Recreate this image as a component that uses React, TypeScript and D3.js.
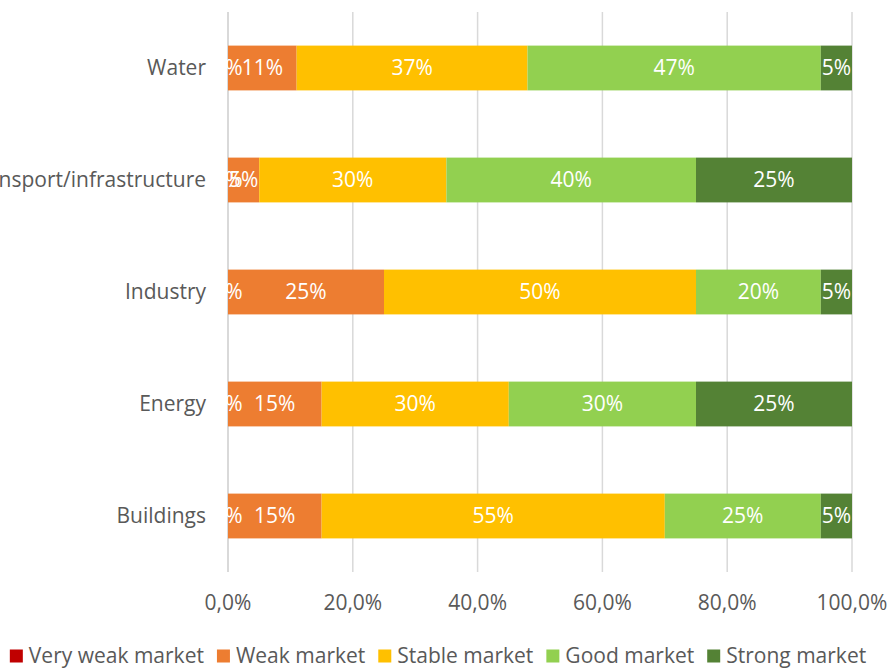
import React, { useEffect, useRef } from 'react';
import * as d3 from 'd3';

// categories top -> bottom
const categories = ['Water', 'Transport/infrastructure', 'Industry', 'Energy', 'Buildings'];
const seriesNames = ['Very weak market', 'Weak market', 'Stable market', 'Good market', 'Strong market'];
const seriesColors = ['#c00000', '#ed7d31', '#ffc000', '#92d050', '#548235'];

// values in percent, same order as categories
const veryWeak = [0, 0, 0, 0, 0];
const weak = [11, 5, 25, 15, 15];
const stable = [37, 30, 50, 30, 55];
const good = [47, 40, 20, 30, 25];
const strong = [5, 25, 5, 25, 5];

const xTicks = [0, 20, 40, 60, 80, 100];

const FONT = 'Open Sans, sans-serif';
const FS = '21px';

export default function App() {
  const ref = useRef<SVGSVGElement | null>(null);

  useEffect(() => {
    const svg = d3.select(ref.current);
    svg.selectAll('*').remove();

    const W = 890, H = 670;
    const margin = { top: 12, left: 228, right: 38, bottom: 98 };

    const rows = categories.map((c, i) => ({
      cat: c,
      vals: [veryWeak[i], weak[i], stable[i], good[i], strong[i]],
    }));

    const x = d3.scaleLinear().domain([0, 100]).range([margin.left, W - margin.right]);
    const y = d3.scaleBand().domain(categories).range([margin.top, H - margin.bottom]).paddingInner(0.6).paddingOuter(0.3);

    // gridlines
    svg.append('g')
      .selectAll('line')
      .data(xTicks)
      .enter()
      .append('line')
      .attr('x1', d => x(d))
      .attr('x2', d => x(d))
      .attr('y1', margin.top)
      .attr('y2', H - margin.bottom)
      .attr('stroke', '#d9d9d9')
      .attr('stroke-width', d => (d === 0 ? 2 : 1.5));

    // bars
    const rowG = svg.append('g')
      .selectAll('g')
      .data(rows)
      .enter()
      .append('g');

    rowG.each(function (r) {
      const g = d3.select(this);
      const total = d3.sum(r.vals);
      let acc = 0;
      const segs = r.vals.map((v, j) => {
        const s = { x0: (acc / total) * 100, x1: ((acc + v) / total) * 100, v, j };
        acc += v;
        return s;
      });
      g.selectAll('rect')
        .data(segs)
        .enter()
        .append('rect')
        .attr('x', d => x(d.x0))
        .attr('y', y(r.cat)!)
        .attr('width', d => x(d.x1) - x(d.x0))
        .attr('height', y.bandwidth())
        .attr('fill', d => seriesColors[d.j]);
      g.selectAll('text')
        .data(segs)
        .enter()
        .append('text')
        .text(d => d.v + '%')
        .attr('x', d => (x(d.x0) + x(d.x1)) / 2)
        .attr('y', y(r.cat)! + y.bandwidth() / 2)
        .attr('dy', '0.35em')
        .attr('text-anchor', 'middle')
        .attr('fill', '#ffffff')
        .attr('font-family', FONT)
        .attr('font-size', FS);
    });

    // category labels
    svg.append('g')
      .selectAll('text')
      .data(categories)
      .enter()
      .append('text')
      .text(d => d)
      .attr('x', margin.left - 22)
      .attr('y', d => y(d)! + y.bandwidth() / 2)
      .attr('dy', '0.35em')
      .attr('text-anchor', 'end')
      .attr('fill', '#595959')
      .attr('font-family', FONT)
      .attr('font-size', FS);

    // x tick labels
    svg.append('g')
      .selectAll('text')
      .data(xTicks)
      .enter()
      .append('text')
      .text(d => d3.format('.1f')(d).replace('.', ',') + '%')
      .attr('x', d => x(d))
      .attr('y', 603)
      .attr('dy', '0.35em')
      .attr('text-anchor', 'middle')
      .attr('fill', '#595959')
      .attr('font-family', FONT)
      .attr('font-size', FS);

    // legend
    const leg = svg.append('g');
    const items = leg.selectAll('g')
      .data(seriesNames)
      .enter()
      .append('g');
    items.append('rect')
      .attr('width', 13)
      .attr('height', 13)
      .attr('y', -6.5)
      .attr('fill', (d, i) => seriesColors[i]);
    items.append('text')
      .text(d => d)
      .attr('x', 19)
      .attr('dy', '0.35em')
      .attr('fill', '#595959')
      .attr('font-family', FONT)
      .attr('font-size', FS);
    let lx = 0;
    const gap = 13;
    items.each(function () {
      const t = d3.select(this).select('text').node() as SVGTextElement;
      const w = 19 + t.getComputedTextLength();
      d3.select(this).attr('transform', 'translate(' + lx + ',0)');
      lx += w + gap;
    });
    const total = lx - gap;
    leg.attr('transform', 'translate(' + (W / 2 - total / 2 - 7) + ',656)');
  }, []);

  return (
    <svg ref={ref} width={890} height={670} style={{ position: 'absolute', left: 0, top: 0 }} />
  );
}
